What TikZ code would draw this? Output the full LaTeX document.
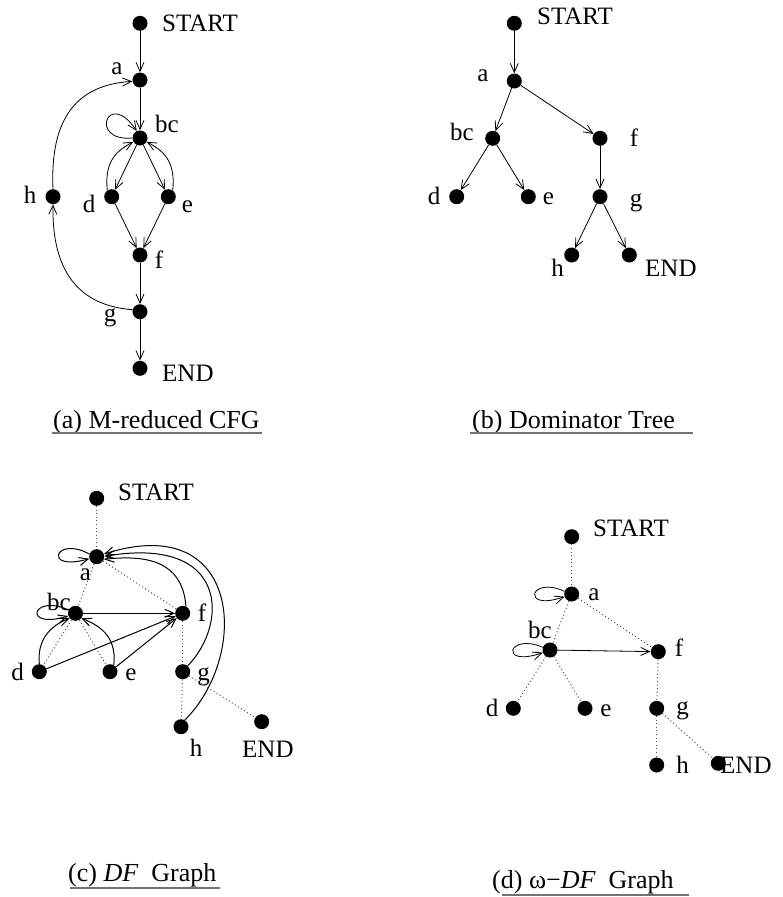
\documentclass[tikz,border=0pt]{standalone}
\usepackage{fontspec}
\setmainfont{Liberation Serif}
\usetikzlibrary{arrows.meta}

\begin{document}
\begin{tikzpicture}[x=1pt,y=-1pt,
  vtx/.style={circle,fill=black,inner sep=0pt,minimum size=15pt},
  lbl/.style={inner sep=0pt,anchor=base,font=\fontsize{25}{30}\selectfont},
  lblw/.style={lbl,anchor=base west},
  arr/.style={-{Straight Barb[length=9pt,width=8pt]},line width=0.8pt},
  darr/.style={arr,line width=1pt},
  dom/.style={line width=1pt,black!70,dash pattern=on 1pt off 2.6pt},
  captn/.style={inner sep=0pt,anchor=base west,font=\fontsize{26}{31}\selectfont},
  uline/.style={line width=1.6pt,black!55}]

\useasboundingbox (0,0) rectangle (782,897);

% ---------- (a) M-reduced CFG ----------
\node[vtx] (aS)  at (140,23.3) {};
\node[vtx] (aa)  at (140,80) {};
\node[vtx] (abc) at (140,138) {};
\node[vtx] (ah)  at (53,196.7) {};
\node[vtx] (ad)  at (111.7,196.7) {};
\node[vtx] (ae)  at (168.3,196.7) {};
\node[vtx] (af)  at (140,255) {};
\node[vtx] (ag)  at (140,311.7) {};
\node[vtx] (aE)  at (140,368.3) {};

\node[lblw] (aSl)  at (162,31.7) {START};
\node[lbl]  (aal)  at (117,74) {a};
\node[lblw] (abcl) at (155,132) {bc};
\node[lbl]  (ahl)  at (30,203) {h};
\node[lbl]  (adl)  at (89,212) {d};
\node[lbl]  (ael)  at (187.5,212) {e};
\node[lbl]  (afl)  at (159,268) {f};
\node[lbl]  (agl)  at (110,321) {g};
\node[lblw] (aEl)  at (162,381.7) {END};

\draw[arr] (aS) -- (aa);
\draw[arr] (aa) -- (abc);
\draw[arr] (abc) -- (ad);
\draw[arr] (abc) -- (ae);
\draw[arr] (ad) -- (af);
\draw[arr] (ae) -- (af);
\draw[arr] (af) -- (ag);
\draw[arr] (ag) -- (aE);
\draw[arr] (abc.180) .. controls (88,142) and (108,88) .. (abc.115);
\draw[arr] (ad.125) .. controls (104,160) and (118,150) .. (abc.210);
\draw[arr] (ae.55) .. controls (176,160) and (162,150) .. (abc.330);
\draw[arr] (ag.165) .. controls (70,305) and (52,260) .. (ah.south);
\draw[arr] (ah.north) .. controls (50,120) and (75,85) .. (aa.190);

\node[captn] (acap) at (53,428) {(a) M-reduced CFG};
\draw[uline] (52,433) -- (262,433);

% ---------- (b) Dominator Tree ----------
\node[vtx] (bS)  at (514.3,23.3) {};
\node[vtx] (ba)  at (514.3,81) {};
\node[vtx] (bbc) at (492.7,138.3) {};
\node[vtx] (bf)  at (600,138.3) {};
\node[vtx] (bd)  at (456.7,196.7) {};
\node[vtx] (be)  at (528.3,196.7) {};
\node[vtx] (bg)  at (600,196.7) {};
\node[vtx] (bh)  at (571.7,255) {};
\node[vtx] (bE)  at (629.3,255) {};

\node[lblw] (bSl)  at (537,24) {START};
\node[lbl]  (bal)  at (483,81.7) {a};
\node[lblw] (bbcl) at (450,140) {bc};
\node[lbl]  (bfl)  at (634,146.7) {f};
\node[lbl]  (bdl)  at (434,204) {d};
\node[lbl]  (bel)  at (548.5,204) {e};
\node[lbl]  (bgl)  at (636,206) {g};
\node[lbl]  (bhl)  at (557.5,276) {h};
\node[lblw] (bEl)  at (645,276) {END};

\draw[arr] (bS) -- (ba);
\draw[arr] (ba) -- (bbc);
\draw[arr] (ba) -- (bf);
\draw[arr] (bbc) -- (bd);
\draw[arr] (bbc) -- (be);
\draw[arr] (bf) -- (bg);
\draw[arr] (bg) -- (bh);
\draw[arr] (bg) -- (bE);

\node[captn] (bcap) at (472,428) {(b) Dominator Tree};
\draw[uline] (470,433) -- (693,433);

% ---------- (c) DF Graph ----------
\node[vtx] (cS)  at (96.7,498.3) {};
\node[vtx] (ca)  at (96.7,556.7) {};
\node[vtx] (cbc) at (75.5,613.3) {};
\node[vtx] (cf)  at (182.7,613.3) {};
\node[vtx] (cd)  at (39.3,671.7) {};
\node[vtx] (ce)  at (110,671.7) {};
\node[vtx] (cg)  at (182.7,671.7) {};
\node[vtx] (ch)  at (181,726.7) {};
\node[vtx] (cE)  at (261.7,721.7) {};

\node[lblw] (cSl)  at (118,500) {START};
\node[lbl]  (cal)  at (85.5,580) {a};
\node[lblw] (cbcl) at (47,610) {bc};
\node[lbl]  (cfl)  at (202,621.7) {f};
\node[lbl]  (cdl)  at (17.5,680) {d};
\node[lbl]  (cel)  at (131,680) {e};
\node[lbl]  (cgl)  at (203.5,680) {g};
\node[lbl]  (chl)  at (196,756.7) {h};
\node[lblw] (cEl)  at (242,757) {END};

\draw[dom] (cS) -- (ca);
\draw[dom] (ca) -- (cbc);
\draw[dom] (ca) -- (cf);
\draw[dom] (cbc) -- (cd);
\draw[dom] (cbc) -- (ce);
\draw[dom] (cf) -- (cg);
\draw[dom] (cg) -- (ch);
\draw[dom] (cg) -- (cE);

\draw[darr] (cbc) -- (cf);
\draw[darr] (cd) -- (cf);
\draw[darr] (ce) -- (cf);
\draw[darr] (ca.160) .. controls (55,535) and (42,572) .. (ca.195);
\draw[darr] (cbc.155) .. controls (32,593) and (22,630) .. (cbc.200);
\draw[darr] (cd.north) .. controls (37,640) and (50,626) .. (cbc.220);
\draw[darr] (ce.60) .. controls (117,635) and (98,625) .. (cbc.320);
\draw[darr] (cf.65) .. controls (183,570) and (160,553) .. (ca.340);
\draw[darr] (cg.50) .. controls (228,625) and (230,535) .. (ca.3);
\draw[darr] (ch.60) .. controls (250,655) and (242,510) .. (ca.20);

\node[captn] (ccap) at (68,881) {(c) \textit{DF}\ \ Graph};
\draw[uline] (70,888) -- (220,888);

% ---------- (d) omega-DF Graph ----------
\node[vtx] (dS)  at (571.7,536.7) {};
\node[vtx] (da)  at (571.7,594) {};
\node[vtx] (dbc) at (550,650) {};
\node[vtx] (df)  at (658.3,651.7) {};
\node[vtx] (dd)  at (513.3,708.3) {};
\node[vtx] (de)  at (585,708.3) {};
\node[vtx] (dg)  at (656.7,708.3) {};
\node[vtx] (dh)  at (656.7,765) {};
\node[vtx] (dE)  at (718.3,763.3) {};

\node[lblw] (dSl)  at (593,536.7) {START};
\node[lbl]  (dal)  at (594,600) {a};
\node[lblw] (dbcl) at (528,638) {bc};
\node[lbl]  (dfl)  at (679,656.7) {f};
\node[lbl]  (ddl)  at (492,716.7) {d};
\node[lbl]  (del)  at (606,716.7) {e};
\node[lbl]  (dgl)  at (682.5,714.5) {g};
\node[lbl]  (dhl)  at (682.5,773) {h};
\node[lblw] (dEl)  at (720,773) {END};

\draw[dom] (dS) -- (da);
\draw[dom] (da) -- (dbc);
\draw[dom] (da) -- (df);
\draw[dom] (dbc) -- (dd);
\draw[dom] (dbc) -- (de);
\draw[dom] (df) -- (dg);
\draw[dom] (dg) -- (dh);
\draw[dom] (dg) -- (dE);

\draw[arr] (dbc) -- (df);
\draw[arr] (da.160) .. controls (530,575) and (520,612) .. (da.200);
\draw[arr] (dbc.160) .. controls (508,632) and (498,668) .. (dbc.200);

\node[captn] (dcap) at (492,888) {(d) ω−\textit{DF}\ \ Graph};
\draw[uline] (502,895) -- (689,895);

\end{tikzpicture}
\end{document}
